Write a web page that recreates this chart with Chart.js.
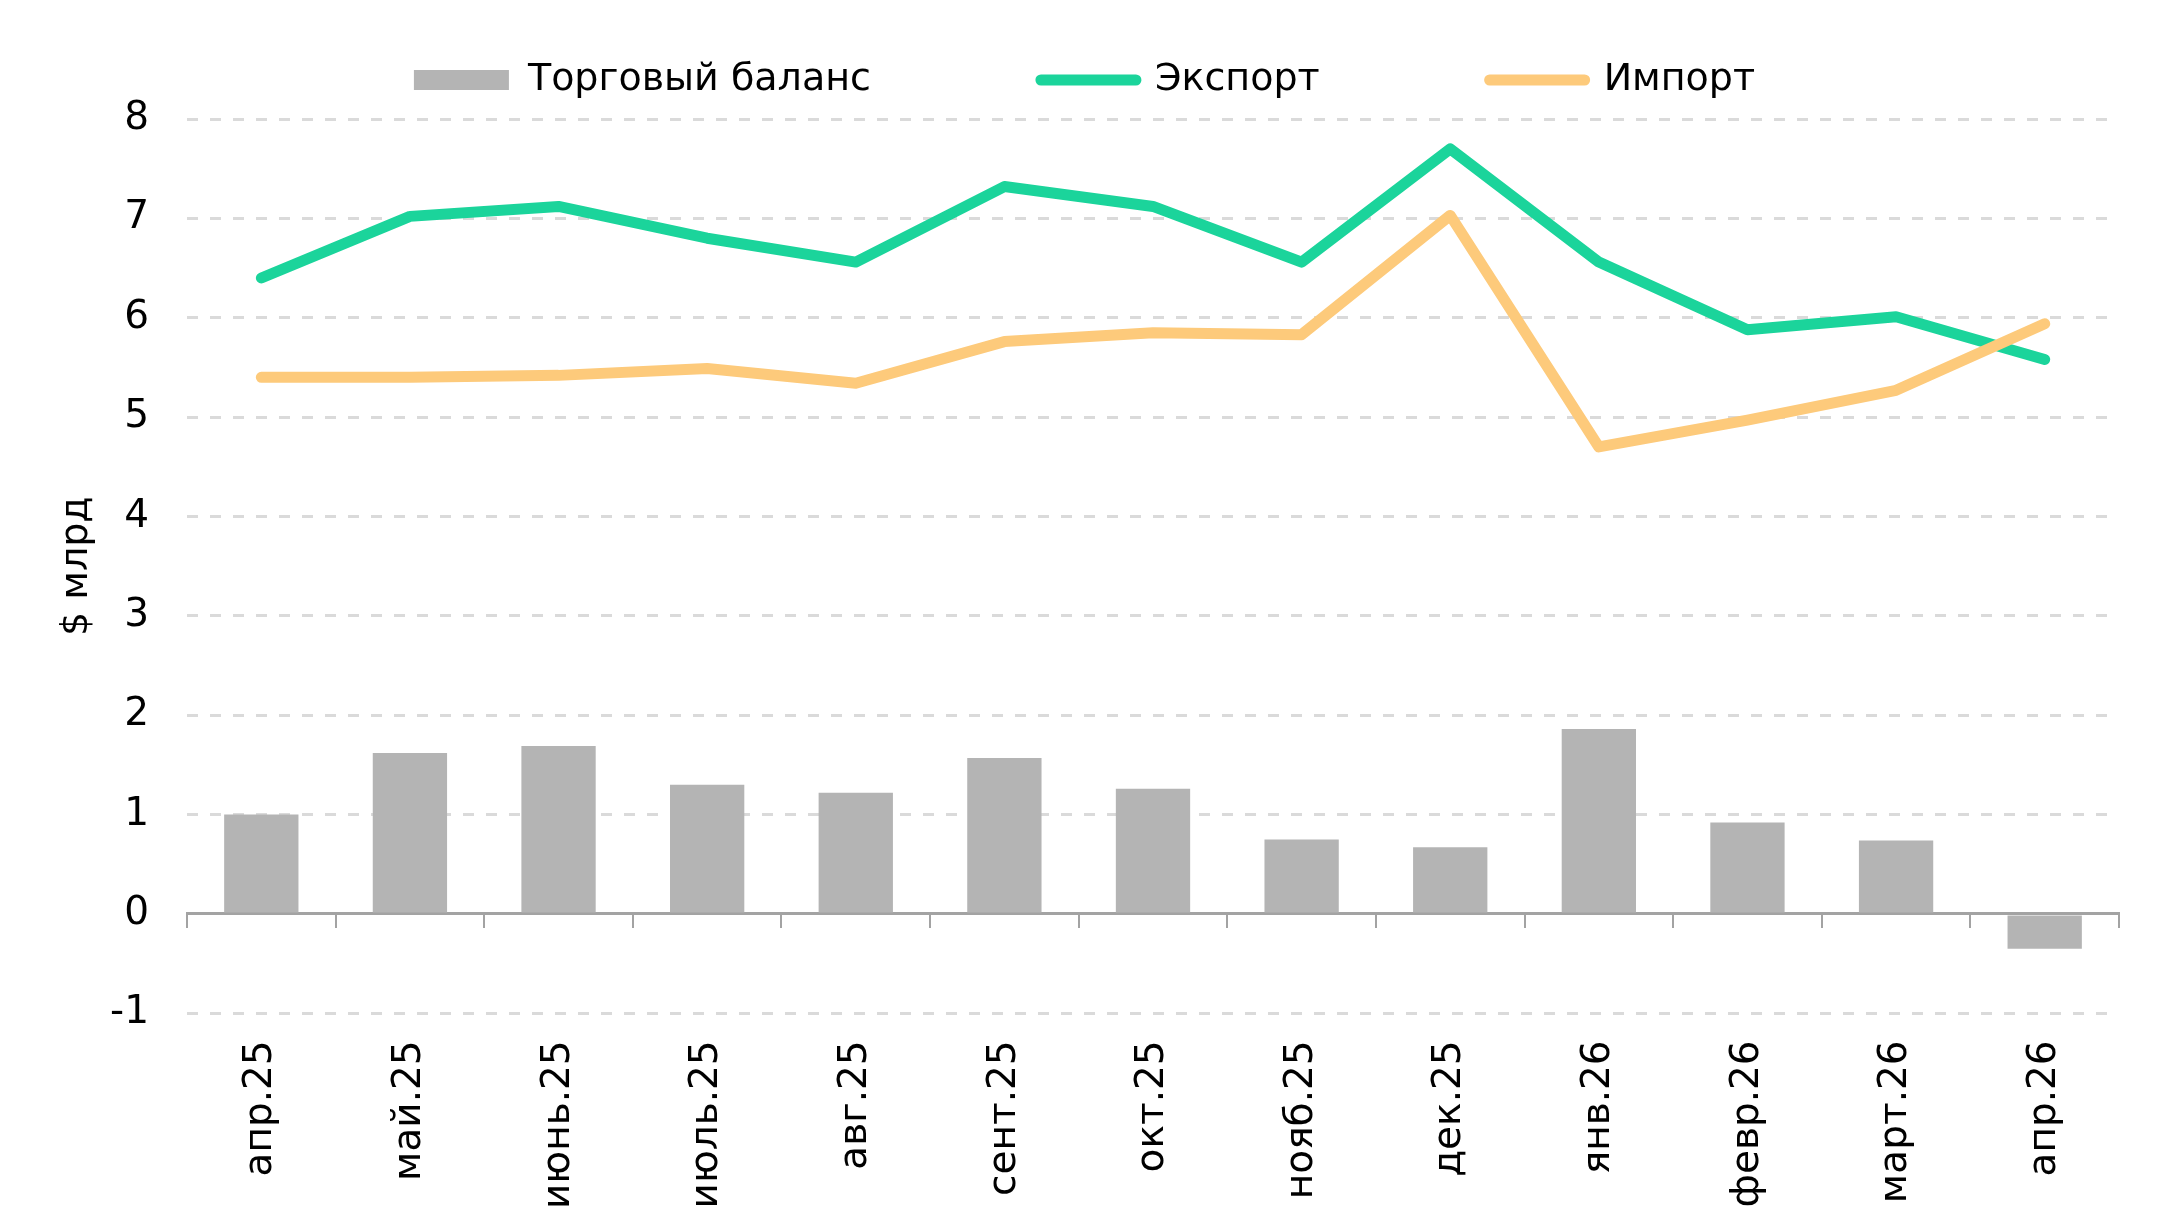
<!DOCTYPE html>
<html>
<head>
<meta charset="utf-8">
<script src="https://cdn.jsdelivr.net/npm/chart.js@4"></script>
<style>
  html, body { margin: 0; padding: 0; background: #fff; overflow: hidden; }
  #wrap { width: 2160px; height: 1228px; }
</style>
</head>
<body>
<div id="wrap"><canvas id="tradeChart"></canvas></div>
<script>
// подписи месяцев
const months = ['апр.25', 'май.25', 'июнь.25', 'июль.25', 'авг.25', 'сент.25', 'окт.25',
  'нояб.25', 'дек.25', 'янв.26', 'февр.26', 'март.26', 'апр.26'];

// $ млрд
const balance = [1.00, 1.62, 1.69, 1.30, 1.22, 1.57, 1.26, 0.75, 0.67, 1.86, 0.92, 0.74, -0.35];
const exportVals = [6.40, 7.02, 7.12, 6.80, 6.56, 7.32, 7.12, 6.56, 7.70, 6.56, 5.88, 6.01, 5.58];
const importVals = [5.40, 5.40, 5.42, 5.49, 5.34, 5.76, 5.85, 5.83, 7.03, 4.70, 4.97, 5.27, 5.94];

const FONT = 'DejaVu Sans, Verdana, sans-serif';
const GREEN = '#1bd49b';
const ORANGE = '#fdca7b';
const GREY_BAR = '#b4b4b4';
const AXIS_GREY = '#a3a3a3';

const ctx = document.getElementById('tradeChart');

new Chart(ctx, {
  type: 'bar',
  data: {
    labels: months,
    datasets: [
      {
        label: 'Торговый баланс',
        data: balance,
        backgroundColor: GREY_BAR,
        categoryPercentage: 1,
        barPercentage: 0.5,
        order: 3,
      },
      {
        type: 'line',
        label: 'Экспорт',
        data: exportVals,
        borderColor: GREEN,
        backgroundColor: GREEN,
        borderWidth: 11,
        pointRadius: 0,
        tension: 0,
        borderJoinStyle: 'round',
        borderCapStyle: 'round',
        order: 2,
      },
      {
        type: 'line',
        label: 'Импорт',
        data: importVals,
        borderColor: ORANGE,
        backgroundColor: ORANGE,
        borderWidth: 11,
        pointRadius: 0,
        tension: 0,
        borderJoinStyle: 'round',
        borderCapStyle: 'round',
        order: 1,
      },
    ],
  },
  options: {
    responsive: true,
    maintainAspectRatio: false,
    animation: false,
    layout: {
      padding: { top: -109, left: 50, right: 41, bottom: 0 },
    },
    plugins: {
      tooltip: { enabled: false },
      legend: {
        position: 'top',
        labels: {
          color: '#000',
          font: { family: FONT, size: 38 },
          usePointStyle: true,
          pointStyleWidth: 95,
          boxHeight: 20,
          padding: 170,
          generateLabels: (chart) =>
            chart.data.datasets.map((ds, i) => ({
              text: ds.label,
              datasetIndex: i,
              fillStyle: ds.backgroundColor,
              strokeStyle: ds.type === 'line' ? ds.borderColor : ds.backgroundColor,
              lineWidth: ds.type === 'line' ? 11 : 0,
              lineCap: 'round',
              pointStyle: ds.type === 'line' ? 'line' : 'rect',
              fontColor: '#000',
              hidden: false,
            })),
        },
      },
    },
    scales: {
      x: {
        type: 'category',
        position: 'bottom',
        offset: true,
        grid: { display: false, offset: true },
        border: { display: false },
        ticks: {
          autoSkip: false,
          minRotation: 90,
          maxRotation: 90,
          padding: 19,
          color: '#000',
          font: { family: FONT, size: 39 },
        },
      },
      // ось на нуле с засечками между месяцами
      xZero: {
        type: 'category',
        position: { y: 0 },
        offset: true,
        grid: {
          offset: true,
          drawOnChartArea: false,
          drawTicks: true,
          tickLength: 13,
          color: AXIS_GREY,
          lineWidth: 2,
        },
        border: { display: true, color: AXIS_GREY, width: 3 },
        ticks: { display: false },
      },
      // пустая полоса между легендой и графиком
      xTop: {
        type: 'category',
        position: 'top',
        grid: { display: false },
        border: { display: false },
        ticks: { display: false },
        afterFit: (scale) => { scale.height = 10; },
      },
      y: {
        min: -1,
        max: 8,
        afterFit: (scale) => { scale.width = 137; },
        ticks: {
          stepSize: 1,
          padding: 38,
          color: '#000',
          font: { family: FONT, size: 39 },
        },
        grid: {
          drawTicks: false,
          color: '#dadada',
          lineWidth: 3,
        },
        border: { display: false, dash: [11, 12] },
        title: {
          display: true,
          text: '$ млрд',
          color: '#000',
          font: { family: FONT, size: 38 },
          padding: { top: 4, bottom: 0 },
        },
      },
    },
  },
});
</script>
</body>
</html>
